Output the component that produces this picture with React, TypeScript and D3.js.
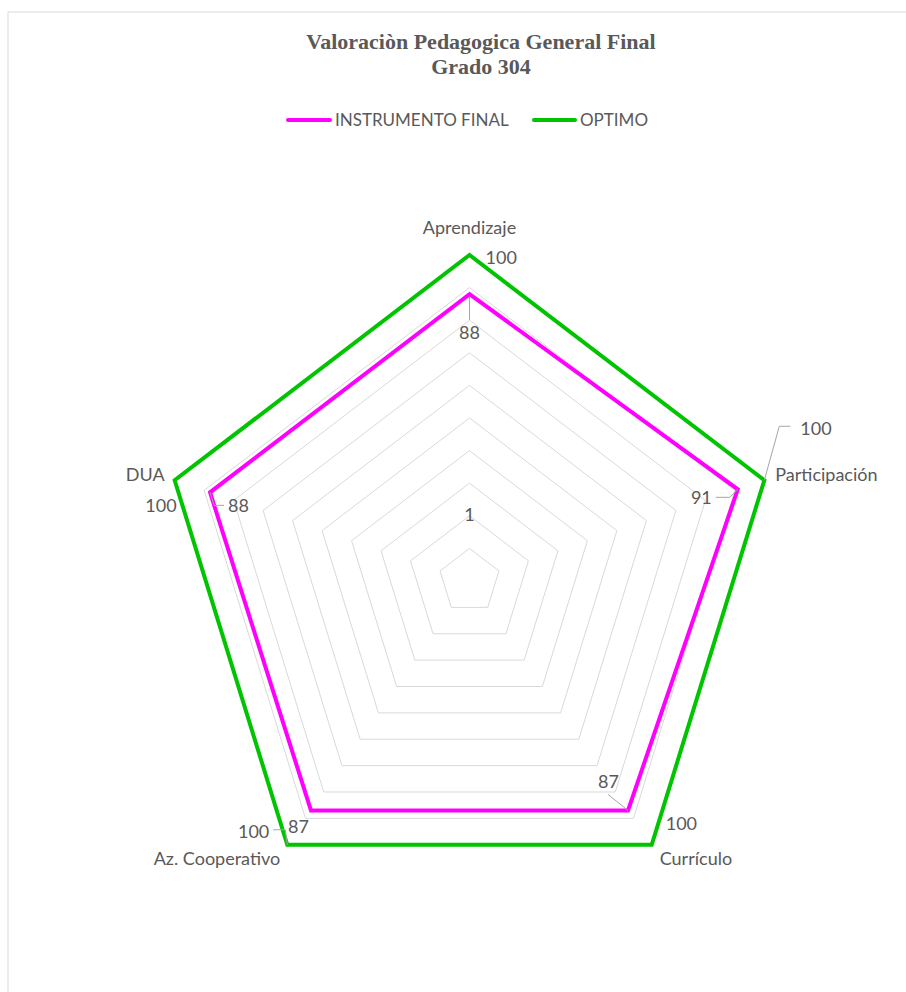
import React from "react";
import * as d3 from "d3";

const categories = ["Aprendizaje", "Participación", "Currículo", "Az. Cooperativo", "DUA"];
const instrumentoFinal = [88, 91, 87, 87, 88];
const optimo = [100, 100, 100, 100, 100];
const gridTicks = [10, 20, 30, 40, 50, 60, 70, 80, 90, 100];
const seriesNames = ["INSTRUMENTO FINAL", "OPTIMO"];

const W = 906, H = 992;
const cx = 469.5, cy = 581;
const rX = 310, rY = 326;
const TXT = "#595959";
const FONT = "Lato, 'Open Sans', sans-serif";

const r = d3.scaleLinear().domain([0, 100]).range([0, 1]);
const angle = d3.scaleLinear().domain([0, categories.length]).range([0, 2 * Math.PI]);

function pt(v: number, i: number): [number, number] {
  const a = angle(i);
  return [cx + rX * r(v) * Math.sin(a), cy - rY * r(v) * Math.cos(a)];
}

const lineGen = d3.line<[number, number]>().curve(d3.curveLinearClosed);

function polygon(vals: number[]) {
  return lineGen(vals.map((v, i) => pt(v, i))) as string;
}

const catLabelPos: [number, number, string][] = [
  [0, -28, "middle"],
  [11, -6, "start"],
  [8, 13, "start"],
  [-7, 13, "end"],
  [-10, -6, "end"],
];
const optLabelPos: [number, number, string][] = [
  [16, 2, "start"],
  [36, -52, "start"],
  [14, -22, "start"],
  [-18, -14, "end"],
  [2, 25, "end"],
];
const optLeader: ([number, number][] | null)[] = [
  null,
  [[0, 0], [15, -54], [26, -54]],
  null,
  [[0, 0], [-2, -15], [-14, -15]],
  null,
];
const insLabelPos: [number, number, string][] = [
  [0, 38, "middle"],
  [-26, 8, "end"],
  [-30, -29, "start"],
  [-23, 16, "start"],
  [18, 13, "start"],
];
const insLeader: ([number, number][] | null)[] = [
  [[0, 2], [0, 26]],
  [[0, 0], [-8, 8], [-22, 8]],
  [[0, 0], [-20, -16]],
  null,
  [[0, 0], [4, 13], [14, 13]],
];

export default function App() {
  return (
    <svg width={W} height={H} style={{ position: "absolute", left: 0, top: 0, background: "#fff" }}>
      <rect x={8} y={12} width={W} height={H} fill="#fff" stroke="#d9d9d9" strokeWidth={1} />
      <text x={481} y={49} textAnchor="middle" fontFamily="'Liberation Serif', 'Times New Roman', serif" fontWeight="bold" fontSize={22} fill={TXT}>
        Valoraciòn Pedagogica General Final
      </text>
      <text x={481} y={74} textAnchor="middle" fontFamily="'Liberation Serif', 'Times New Roman', serif" fontWeight="bold" fontSize={22} fill={TXT}>
        Grado 304
      </text>
      <g fontFamily={FONT} fontSize={17} fill={TXT}>
        <line x1={288} x2={330} y1={120} y2={120} stroke="#ff00ff" strokeWidth={4} strokeLinecap="round" />
        <text x={335} y={126}>{seriesNames[0]}</text>
        <line x1={534} x2={575} y1={120} y2={120} stroke="#00c400" strokeWidth={4} strokeLinecap="round" />
        <text x={580} y={126}>{seriesNames[1]}</text>
      </g>
      {gridTicks.map((t) => (
        <path key={t} d={polygon(categories.map(() => t))} fill="none" stroke="#d9d9d9" strokeWidth={1} />
      ))}
      <path d={polygon(optimo)} fill="none" stroke="#00c400" strokeWidth={4} strokeLinejoin="miter" />
      <path d={polygon(instrumentoFinal)} fill="none" stroke="#ff00ff" strokeWidth={4} strokeLinejoin="miter" />
      {optimo.map((v, i) => {
        const L = optLeader[i];
        if (!L) return null;
        const [x, y] = pt(v, i);
        return <polyline key={"ol" + i} points={L.map(([dx, dy]) => `${x + dx},${y + dy}`).join(" ")} fill="none" stroke="#a6a6a6" strokeWidth={1} />;
      })}
      {instrumentoFinal.map((v, i) => {
        const L = insLeader[i];
        if (!L) return null;
        const [x, y] = pt(v, i);
        return <polyline key={"il" + i} points={L.map(([dx, dy]) => `${x + dx},${y + dy}`).join(" ")} fill="none" stroke="#a6a6a6" strokeWidth={1} />;
      })}
      <g fontFamily={FONT} fontSize={18} fill={TXT}>
        {categories.map((c, i) => {
          const [x, y] = pt(100, i);
          const [dx, dy, a] = catLabelPos[i];
          return (
            <text key={c} x={x + dx} y={y + dy} textAnchor={a as any} dominantBaseline="central">
              {c}
            </text>
          );
        })}
        {optimo.map((v, i) => {
          const [x, y] = pt(v, i);
          const [dx, dy, a] = optLabelPos[i];
          return (
            <text key={"o" + i} x={x + dx} y={y + dy} textAnchor={a as any} dominantBaseline="central">
              {v}
            </text>
          );
        })}
        {instrumentoFinal.map((v, i) => {
          const [x, y] = pt(v, i);
          const [dx, dy, a] = insLabelPos[i];
          return (
            <text key={"i" + i} x={x + dx} y={y + dy} textAnchor={a as any} dominantBaseline="central">
              {v}
            </text>
          );
        })}
        <text x={cx} y={514} textAnchor="middle" dominantBaseline="central">1</text>
      </g>
    </svg>
  );
}
